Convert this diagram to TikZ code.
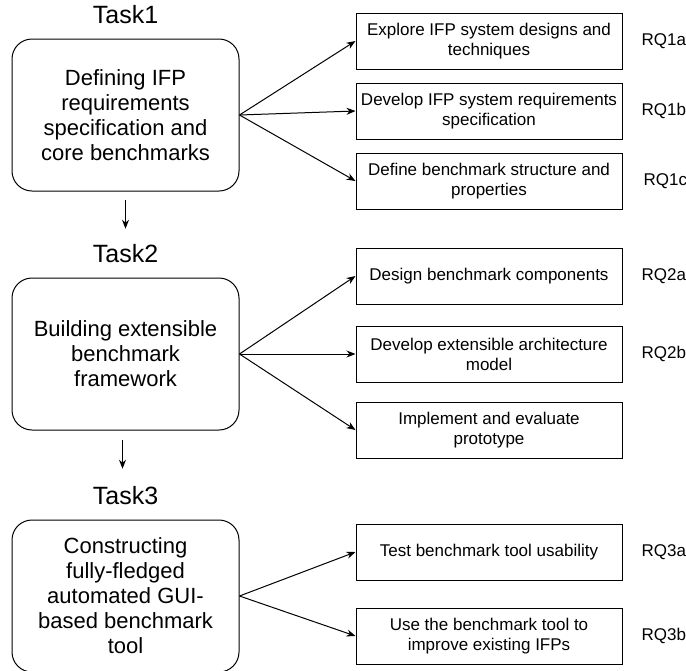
\documentclass[tikz,border=0pt]{standalone}
\usepackage{fontspec}
\setmainfont{Liberation Sans}
\usepackage{tikz}
\usetikzlibrary{positioning,arrows.meta}
\tikzstyle{taskbox} = [rectangle, rounded corners=20pt, minimum width=227pt, minimum height=152pt, text centered, align=center, draw=black, line width=1pt, font=\fontsize{22}{25}\selectfont]
\tikzstyle{tasklabel} = [inner sep=0pt, font=\fontsize{25}{30}\selectfont]
\tikzstyle{rqbox} = [rectangle, minimum width=266pt, minimum height=56pt, text centered, align=center, draw=black, line width=1pt, inner xsep=2pt, font=\fontsize{17}{20}\selectfont]
\tikzstyle{rqlabel} = [inner sep=0pt, font=\fontsize{17}{20}\selectfont]
\tikzstyle{arrow} = [line width=1pt, -{Stealth[length=9pt,width=7pt]}]

\begin{document}
\begin{tikzpicture}[x=1pt, y=1pt]
		\useasboundingbox (0,0) rectangle (686,-670);

		% Tasks
		\node (task1) [taskbox] at (125.5,-115) {Defining IFP\\requirements\\specification and\\core benchmarks};
		\node (task2) [taskbox, below=86pt of task1] {Building extensible\\benchmark\\framework};
		\node (task3) [taskbox, below=89pt of task2] {Constructing\\fully-fledged\\automated GUI-\\based benchmark\\tool};

		\node (task1_lbl) [tasklabel, above=15pt of task1] {Task1};
		\node (task2_lbl) [tasklabel, above=15pt of task2] {Task2};
		\node (task3_lbl) [tasklabel, above=15pt of task3] {Task3};

		% Research questions of Task1
		\node (dev_req) [rqbox, right=116pt of task1, yshift=4pt] {Develop IFP system requirements\\specification};
		\node (explore) [rqbox, above=13pt of dev_req] {Explore IFP system designs and\\techniques};
		\node (def_bm) [rqbox, below=13pt of dev_req] {Define benchmark structure and\\properties};

		% Research questions of Task2
		\node (dev_arch) [rqbox, right=116pt of task2] {Develop extensible architecture\\model};
		\node (design_bm) [rqbox, above=21pt of dev_arch] {Design benchmark components};
		\node (impl) [rqbox, below=19pt of dev_arch] {Implement and evaluate\\prototype};

		% Research questions of Task3
		\node (usability) [rqbox, right=116pt of task3, yshift=44pt] {Test benchmark tool usability};
		\node (improve) [rqbox, below=27pt of usability] {Use the benchmark tool to\\improve existing IFPs};

		% RQ labels
		\node (rq1a) [rqlabel, right=19pt of explore] {RQ1a};
		\node (rq1b) [rqlabel, right=19pt of dev_req] {RQ1b};
		\node (rq1c) [rqlabel, right=21pt of def_bm] {RQ1c};
		\node (rq2a) [rqlabel, right=19pt of design_bm] {RQ2a};
		\node (rq2b) [rqlabel, right=19pt of dev_arch] {RQ2b};
		\node (rq3a) [rqlabel, right=19pt of usability] {RQ3a};
		\node (rq3b) [rqlabel, right=19pt of improve] {RQ3b};

		% Arrows
		\draw [arrow] ([yshift=-8pt]task1.south) -- ([yshift=15pt]task2_lbl.north);
		\draw [arrow] ([xshift=-3pt,yshift=-9pt]task2.south) -- ([xshift=-3pt,yshift=17pt]task3_lbl.north);

		\draw [arrow] (task1.east) -- (explore.west);
		\draw [arrow] (task1.east) -- (dev_req.west);
		\draw [arrow] (task1.east) -- (def_bm.west);

		\draw [arrow] (task2.east) -- (design_bm.west);
		\draw [arrow] (task2.east) -- (dev_arch.west);
		\draw [arrow] (task2.east) -- (impl.west);

		\draw [arrow] (task3.east) -- (usability.west);
		\draw [arrow] (task3.east) -- (improve.west);
	\end{tikzpicture}
\end{document}
